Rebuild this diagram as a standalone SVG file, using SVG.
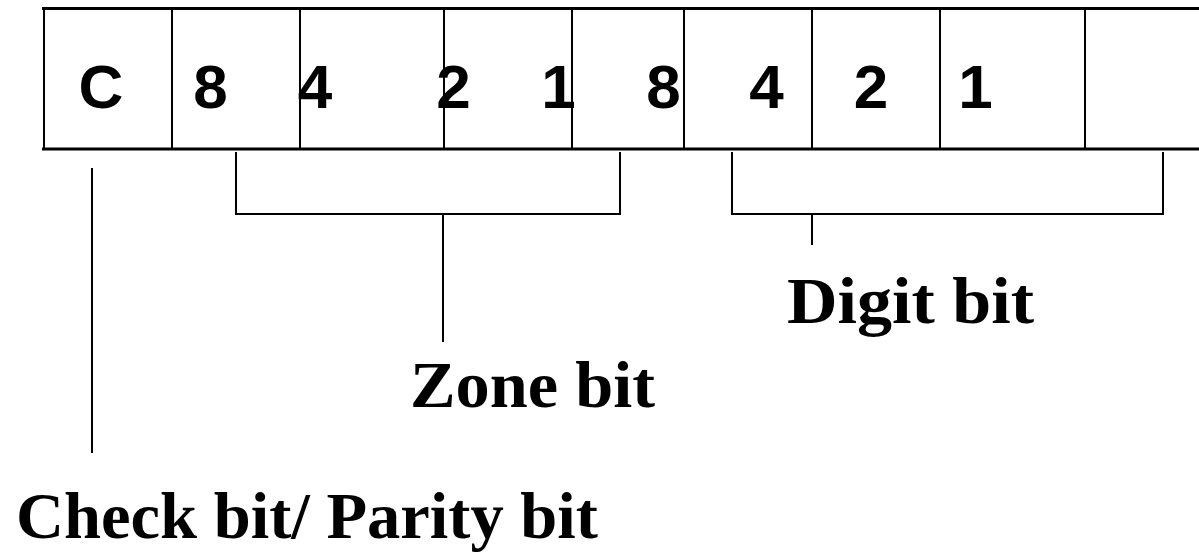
<svg xmlns="http://www.w3.org/2000/svg" width="1199" height="552" viewBox="0 0 1199 552">
<style>
.ln{stroke:#000;stroke-width:2;fill:none}
.thick{stroke:#000;stroke-width:3;fill:none}
.cell{font-family:"Liberation Sans",Arial,sans-serif;font-weight:bold;font-size:62px;fill:#000;text-anchor:middle}
.lbl{font-family:"Liberation Serif","Times New Roman",serif;font-weight:bold;font-size:66px;fill:#000}
</style>
<rect width="1199" height="552" fill="#fff"/>
<g id="register">
<line class="thick" x1="42" y1="8.5" x2="1199" y2="8.5"/>
<line class="thick" x1="42" y1="149" x2="1199" y2="149"/>
<line class="ln" x1="44" y1="8" x2="44" y2="150"/>
<line class="ln" x1="172" y1="8" x2="172" y2="150"/>
<line class="ln" x1="300" y1="8" x2="300" y2="150"/>
<line class="ln" x1="444" y1="8" x2="444" y2="150"/>
<line class="ln" x1="572" y1="8" x2="572" y2="150"/>
<line class="ln" x1="684" y1="8" x2="684" y2="150"/>
<line class="ln" x1="812" y1="8" x2="812" y2="150"/>
<line class="ln" x1="940" y1="8" x2="940" y2="150"/>
<line class="ln" x1="1085" y1="8" x2="1085" y2="150"/>
<text class="cell" x="101" y="108">C</text>
<text class="cell" x="210.5" y="108">8</text>
<text class="cell" x="315" y="108">4</text>
<text class="cell" x="453.5" y="108">2</text>
<text class="cell" x="558.5" y="108">1</text>
<text class="cell" x="663.5" y="108">8</text>
<text class="cell" x="766.5" y="108">4</text>
<text class="cell" x="871" y="108">2</text>
<text class="cell" x="975.5" y="108">1</text>
</g>
<g id="connectors">
<line class="ln" x1="92" y1="168" x2="92" y2="453"/>
<polyline class="ln" points="236,152 236,214 620,214 620,152"/>
<line class="ln" x1="443" y1="214" x2="443" y2="342"/>
<polyline class="ln" points="732,152 732,214 1163,214 1163,152"/>
<line class="ln" x1="812" y1="214" x2="812" y2="245"/>
</g>
<g id="zone-label"><text class="lbl" x="410" y="407" textLength="245" lengthAdjust="spacingAndGlyphs">Zone bit</text></g>
<g id="digit-label"><text class="lbl" x="787" y="323" textLength="247" lengthAdjust="spacingAndGlyphs">Digit bit</text></g>
<g id="check-label"><text class="lbl" x="16" y="538" textLength="582" lengthAdjust="spacingAndGlyphs">Check bit/ Parity bit</text></g>
</svg>
